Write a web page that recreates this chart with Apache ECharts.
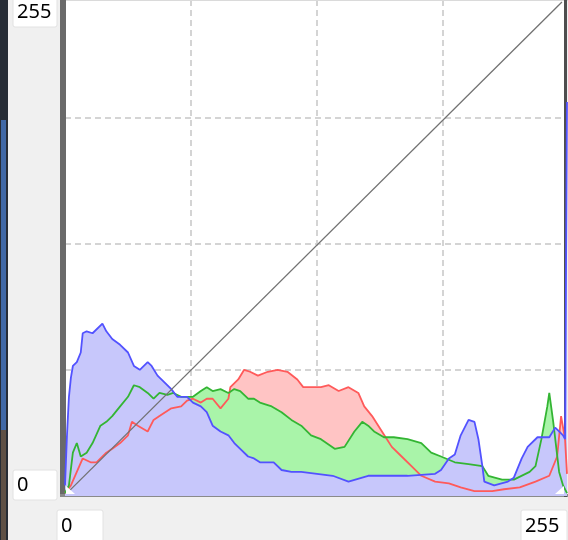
<!DOCTYPE html>
<html>
<head>
<meta charset="utf-8">
<script src="https://cdn.jsdelivr.net/npm/echarts@6/dist/echarts.min.js"></script>
<style>
  html, body { margin: 0; padding: 0; background: #f0f0f0; }
  #chartmain { width: 568px; height: 540px; }
</style>
</head>
<body>
<div id="chartmain"></div>
<script>
// histogram levels (0-255) and heights
var blueHist = [[0,4],[1,30],[2,50],[3,60],[4,66],[6,68],[8,73],[9,83],[11,84],[14,83],[19,88],[21,84],[24,80],[28,77],[32,73],[35,66],[38,64],[42,68],[44,66],[47,61],[50,58],[54,54],[57,50],[62,50],[65,47],[69,45],[72,42],[75,35],[79,32],[83,30],[86,26],[89,23],[93,19],[96,18],[99,16],[106,16],[110,12],[115,11],[120,11],[128,10],[136,9],[144,6],[154,9],[164,9],[174,9],[188,10],[191,12],[195,18],[198,20],[201,30],[205,38],[206,39],[208,37],[210,28],[212,14],[213,6],[218,4],[225,6],[228,8],[232,18],[235,24],[240,29],[246,29],[249,34],[251,32],[253,30],[254,28],[255,203]];
var greenHist = [[0,0],[2,4],[4,21],[6,26],[8,19],[11,21],[14,26],[18,35],[21,37],[24,40],[28,45],[32,50],[35,56],[38,55],[42,52],[45,49],[48,52],[52,51],[55,52],[59,50],[62,50],[65,50],[69,53],[72,55],[75,53],[79,54],[83,52],[86,54],[89,53],[93,49],[96,49],[99,47],[105,45],[110,42],[115,38],[120,35],[125,30],[130,28],[137,23],[142,24],[147,32],[151,37],[154,35],[157,32],[162,29],[167,29],[174,28],[181,26],[186,21],[191,19],[198,16],[205,15],[212,14],[215,9],[222,7],[228,7],[236,11],[239,14],[242,28],[245,45],[246,52],[248,37],[251,11],[253,4],[255,0]];
var redHist = [[0,0],[3,4],[6,11],[9,18],[13,16],[16,16],[21,21],[24,23],[28,26],[32,30],[34,37],[37,35],[42,32],[45,38],[48,40],[54,44],[59,45],[62,48],[65,49],[69,47],[72,49],[75,49],[79,44],[83,49],[84,55],[88,59],[91,64],[94,63],[98,61],[103,63],[108,64],[113,63],[118,59],[121,55],[125,55],[130,55],[134,56],[139,53],[144,55],[149,52],[152,45],[156,40],[161,32],[166,24],[171,19],[176,14],[181,9],[188,6],[195,5],[201,3],[208,1],[217,1],[223,2],[231,3],[239,6],[246,9],[250,19],[252,40],[254,28],[255,10]];
// the tone curve (identity)
var curvePoints = [[0,0],[255,255]];
var minLabel = '0';
var maxLabel = '255';

function areaSeries(data, color) {
    return {
        type: 'line', data: data, xAxisIndex: 0, yAxisIndex: 0,
        showSymbol: false, silent: true, z: 2,
        lineStyle: { width: 0, opacity: 0 },
        areaStyle: { color: color, opacity: 1, origin: 'start' }
    };
}
function lineSeries(data, color) {
    return {
        type: 'line', data: data, xAxisIndex: 0, yAxisIndex: 0,
        showSymbol: false, silent: true, z: 3,
        lineStyle: { width: 1.8, color: color }
    };
}
function textBox(x, y, w, h, txt) {
    return {
        type: 'group', x: x, y: y, z: 100,
        children: [
            { type: 'rect', shape: { x: 0, y: 0, width: w, height: h, r: 2 },
              style: { fill: '#ffffff', stroke: '#e2e2e2', lineWidth: 1 } },
            { type: 'text', x: 4, y: h / 2,
              style: { text: txt, fill: '#000', font: '20px "Noto Sans"', textVerticalAlign: 'middle' } }
        ]
    };
}

var hidden = { show: false };
var option = {
    animation: false,
    backgroundColor: '#f0f0f0',
    grid: { left: 65, top: 0, width: 502, height: 496, show: true, backgroundColor: '#ffffff', borderWidth: 0 },
    xAxis: [
        { type: 'value', min: 0, max: 255, axisLine: hidden, axisTick: hidden, axisLabel: hidden, splitLine: hidden },
        { type: 'value', min: 0, max: 502, interval: 126, axisLine: hidden, axisTick: hidden, axisLabel: hidden,
          splitLine: { show: true, showMinLine: false, showMaxLine: false, lineStyle: { color: '#d4d4d4', width: 2, type: [6, 4] } } },
        { type: 'value', min: -1.03, max: 257.6, axisLine: hidden, axisTick: hidden, axisLabel: hidden, splitLine: hidden }
    ],
    yAxis: [
        { type: 'value', min: -1.5, max: 256, axisLine: hidden, axisTick: hidden, axisLabel: hidden, splitLine: hidden },
        { type: 'value', min: 0, max: 496, interval: 126, axisLine: hidden, axisTick: hidden, axisLabel: hidden,
          splitLine: { show: true, showMinLine: false, showMaxLine: false, lineStyle: { color: '#d4d4d4', width: 2, type: [6, 4] } } }
    ],
    series: [
        areaSeries(redHist, '#ffc4c4'),
        areaSeries(greenHist, '#a9f4a9'),
        areaSeries(blueHist, '#c7c7fb'),
        lineSeries(redHist, '#ff5a5a'),
        lineSeries(greenHist, '#33b533'),
        lineSeries(blueHist, '#5252ff'),
        {
            type: 'line', data: curvePoints, xAxisIndex: 2, yAxisIndex: 0,
            showSymbol: false, silent: true, z: 4,
            lineStyle: { width: 1.3, color: '#727272' }
        }
    ],
    graphic: [
        // photo strip at the window's left edge
        { type: 'rect', shape: { x: 0, y: 0, width: 8, height: 540 }, style: { fill: '#262c36' }, z: 1 },
        { type: 'rect', shape: { x: 1, y: 120, width: 5, height: 310 }, style: { fill: '#4068a6' }, z: 1 },
        { type: 'rect', shape: { x: 1, y: 430, width: 5, height: 110 }, style: { fill: '#5e5046' }, z: 1 },
        // sunken frame of the plot
        { type: 'rect', shape: { x: 65, y: 0, width: 503, height: 1 }, style: { fill: '#dadada' }, z: 1 },
        { type: 'rect', shape: { x: 60, y: 0, width: 6, height: 497 }, style: { fill: '#6a6a6a' }, z: 1 },
        { type: 'rect', shape: { x: 60, y: 494, width: 508, height: 3 }, style: { fill: '#8a8a8a' }, z: 1 },
        { type: 'rect', shape: { x: 564, y: 0, width: 3, height: 497 }, style: { fill: '#4e4e4e' }, z: 1 },
        // end point handles
        { type: 'polygon', shape: { points: [[66, 486], [66, 494], [75, 494]] }, style: { fill: '#ffffff' }, z: 50 },
        { type: 'polygon', shape: { points: [[564, 486], [564, 494], [555, 494]] }, style: { fill: '#ffffff' }, z: 50 },
        textBox(13, -3, 44, 30, maxLabel),
        textBox(13, 470, 44, 30, minLabel),
        textBox(57, 510, 46, 32, minLabel),
        textBox(521, 510, 46, 32, maxLabel)
    ]
};

var myChart = echarts.init(document.getElementById('chartmain'));
myChart.setOption(option);
</script>
</body>
</html>
